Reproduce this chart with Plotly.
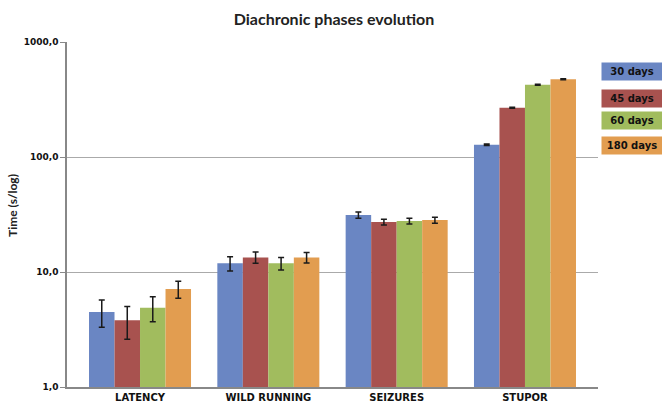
import plotly.graph_objects as go

categories = ["LATENCY", "WILD RUNNING", "SEIZURES", "STUPOR"]
series_names = ["30 days", "45 days", "60 days", "180 days"]
values = {
    "30 days": [4.5, 11.9, 31.3, 128],
    "45 days": [3.8, 13.4, 27.2, 268],
    "60 days": [4.9, 11.9, 27.8, 425],
    "180 days": [7.1, 13.4, 28.3, 474],
}
errors = {
    "30 days": [1.2, 1.7, 2.0, 2],
    "45 days": [1.2, 1.5, 1.6, 3],
    "60 days": [1.2, 1.5, 1.6, 5],
    "180 days": [1.2, 1.4, 1.7, 5],
}
colors = ["#6A86C3", "#A8524F", "#A1BC5E", "#E29D50"]
tick_vals = [1, 10, 100, 1000]
tick_text = ["1,0", "10,0", "100,0", "1000,0"]

fig = go.Figure()
for name, c in zip(series_names, colors):
    fig.add_trace(go.Bar(
        x=categories, y=values[name], name=name, marker_color=c,
        marker_line_width=0,
        error_y=dict(type="data", array=errors[name], color="#1A1A1A",
                     thickness=1.5, width=3),
    ))

# legend as coloured boxes
legend_y = [71.5, 98.5, 120.5, 145]
for name, c, yp in zip(series_names, colors, legend_y):
    fig.add_annotation(
        xref="paper", yref="paper", x=(601 - 67) / 531, xanchor="left",
        y=1 - (yp - 42) / 345, yanchor="middle",
        text=name, showarrow=False,
        bgcolor=c, font=dict(family="DejaVu Sans", size=10, color="#111111",
                             weight="bold"),
        borderpad=1, width=58, height=15, align="center",
    )

# y-axis title
fig.add_annotation(
    xref="paper", yref="paper", x=(12 - 67) / 531, xanchor="center",
    y=1 - (206 - 42) / 345, yanchor="middle", textangle=-90,
    text="Time (s/log)", showarrow=False,
    font=dict(family="Lato", size=12, color="#222222", weight="bold"),
)

fig.update_layout(
    width=662, height=408,
    margin=dict(l=67, r=64, t=42, b=21),
    paper_bgcolor="white", plot_bgcolor="white",
    barmode="group", bargap=0.205, bargroupgap=0,
    showlegend=False,
    title=dict(text="Diachronic phases evolution", x=334 / 662, xanchor="center",
               y=1 - 19 / 408, yanchor="middle",
               font=dict(family="Lato", size=16, color="#222222", weight="bold")),
    xaxis=dict(showline=True, linecolor="#888888", linewidth=1.5, ticks="",
               range=[-0.569, 3.569], automargin=False,
               tickfont=dict(family="DejaVu Sans", size=10, color="#111111",
                             weight="bold"),
               showgrid=False),
    yaxis=dict(type="log", range=[0, 3], tickvals=tick_vals, ticktext=tick_text,
               automargin=False,
               showline=True, linecolor="#888888", linewidth=1.5,
               ticks="outside", ticklen=5, tickcolor="#888888",
               showgrid=True, gridcolor="#AAAAAA", gridwidth=1.2,
               tickfont=dict(family="DejaVu Sans", size=9, color="#111111",
                             weight="bold")),
)

fig.write_html("out.html", config={"displayModeBar": False},
               post_script="document.body.style.margin='0';document.body.style.overflow='hidden';")
